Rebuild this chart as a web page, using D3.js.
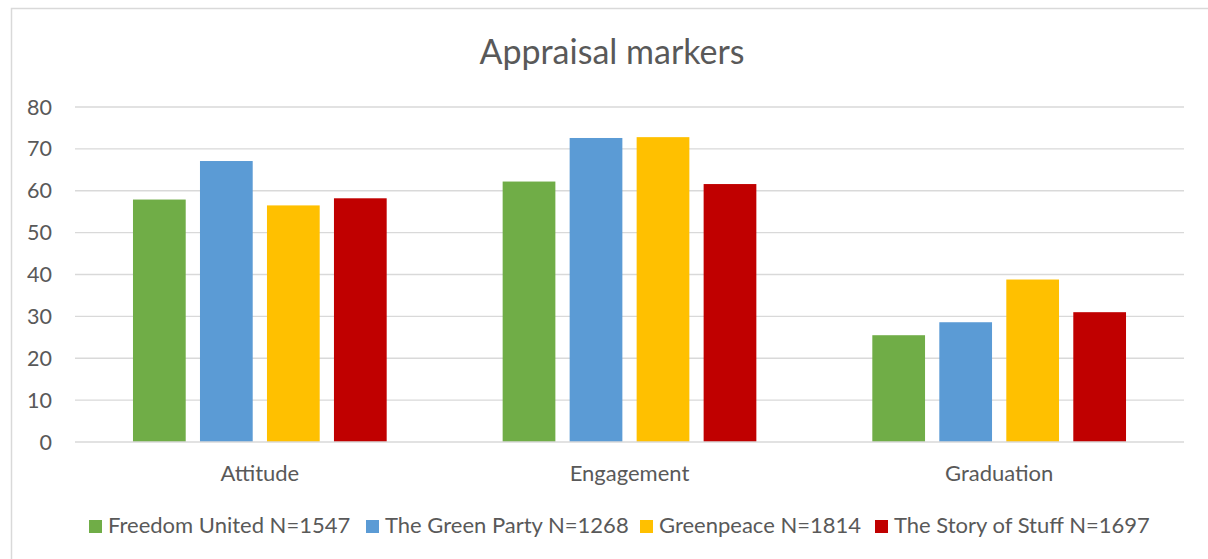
<!DOCTYPE html>
<html>
<head>
<meta charset="utf-8">
<script src="https://cdn.jsdelivr.net/npm/d3@7"></script>
<style>
  html, body { margin: 0; padding: 0; background: #fff; }
  svg { display: block; }
  text { font-family: Lato, "Open Sans", sans-serif; fill: #595959; }
</style>
</head>
<body>
<svg id="chart" width="1208" height="559"></svg>
<script>
const categories = ["Attitude", "Engagement", "Graduation"];
const seriesNames = ["Freedom United N=1547", "The Green Party N=1268", "Greenpeace N=1814", "The Story of Stuff N=1697"];
const seriesColors = ["#70AD47", "#5B9BD5", "#FFC000", "#C00000"];
const freedomUnited = [57.9, 62.2, 25.5];
const greenParty = [67.1, 72.6, 28.6];
const greenpeace = [56.5, 72.8, 38.8];
const storyOfStuff = [58.2, 61.6, 31.0];
const yTicks = [0, 10, 20, 30, 40, 50, 60, 70, 80];
const titleText = "Appraisal markers";

const seriesValues = [freedomUnited, greenParty, greenpeace, storyOfStuff];

const W = 1208, H = 559;
const plotLeft = 75, plotRight = 1184, plotTop = 107, plotBottom = 442;

const svg = d3.select("#chart");

// chart border
svg.append("rect")
  .attr("x", 11.5).attr("y", 8.5)
  .attr("width", W + 20).attr("height", H + 20)
  .attr("fill", "#fff").attr("stroke", "#D9D9D9").attr("stroke-width", 1.5);

const y = d3.scaleLinear().domain([0, 80]).range([plotBottom, plotTop]);
const x0 = d3.scaleBand().domain(categories).range([plotLeft, plotRight]).paddingInner(0.3137).paddingOuter(0.3137 / 2);
const x1 = d3.scaleBand().domain(d3.range(seriesNames.length)).range([0, x0.bandwidth()]).paddingInner(0.213).paddingOuter(0);

// gridlines
svg.append("g").selectAll("line").data(yTicks.filter(d => d > 0)).join("line")
  .attr("x1", plotLeft).attr("x2", plotRight)
  .attr("y1", d => y(d)).attr("y2", d => y(d))
  .attr("stroke", "#D9D9D9").attr("stroke-width", 1.3);

// y tick labels
svg.append("g").selectAll("text").data(yTicks).join("text")
  .attr("x", 52).attr("y", d => y(d))
  .attr("dy", "0.35em")
  .attr("text-anchor", "end")
  .style("font-size", "21.5px")
  .text(d => d);

// bars
const groups = svg.append("g").selectAll("g").data(categories).join("g")
  .attr("transform", c => `translate(${x0(c)},0)`);
groups.selectAll("rect").data((c, ci) => seriesValues.map((vals, si) => ({ si, v: vals[ci] }))).join("rect")
  .attr("x", d => x1(d.si))
  .attr("width", x1.bandwidth())
  .attr("y", d => y(d.v))
  .attr("height", d => y(0) - y(d.v))
  .attr("fill", d => seriesColors[d.si]);

// x axis line
svg.append("line")
  .attr("x1", plotLeft).attr("x2", plotRight)
  .attr("y1", y(0)).attr("y2", y(0))
  .attr("stroke", "#D9D9D9").attr("stroke-width", 1.5);

// category labels
svg.append("g").selectAll("text").data(categories).join("text")
  .attr("x", c => x0(c) + x0.bandwidth() / 2)
  .attr("y", 481)
  .attr("text-anchor", "middle")
  .style("font-size", "22px")
  .text(c => c);

// title
svg.append("text")
  .attr("x", 612).attr("y", 64)
  .attr("text-anchor", "middle")
  .style("font-size", "34px")
  .text(titleText);

// legend
const legendX = [89, 366, 640, 875];
const lg = svg.append("g").selectAll("g").data(seriesNames).join("g")
  .attr("transform", (d, i) => `translate(${legendX[i]},0)`);
lg.append("rect").attr("x", 0).attr("y", 520).attr("width", 13).attr("height", 13)
  .attr("fill", (d, i) => seriesColors[i]);
lg.append("text").attr("x", 19).attr("y", 533)
  .style("font-size", "22px")
  .text(d => d);
</script>
</body>
</html>
